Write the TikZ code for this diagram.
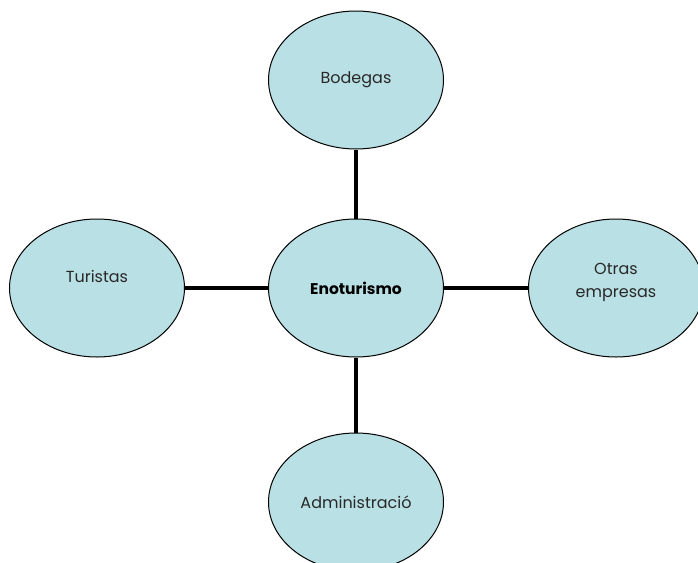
\documentclass[tikz,border=0pt]{standalone}
\usepackage{fontspec}
\setmainfont{Poppins}
\usepackage{xcolor}
\usetikzlibrary{shapes.geometric, positioning}

\definecolor{celeste}{RGB}{185,224,228}
\definecolor{tinta}{RGB}{40,40,40}

\begin{document}
\begin{tikzpicture}[x=1pt, y=-1pt,
    burbuja/.style={ellipse, draw=black, line width=1pt, fill=celeste,
        minimum width=175pt, minimum height=138pt, inner sep=0pt, align=center,
        text=tinta, font=\fontsize{16}{23}\selectfont},
    enlace/.style={line width=4.5pt, black}]
    \useasboundingbox (0,0) rectangle (698,562);

    % Nodo central
    \node[burbuja, text=black, font=\fontsize{15.5}{23}\selectfont\bfseries] (eno) at (356,288) {Enoturismo};

    % Nodos alrededor
    \node[burbuja] (bodegas) at (356,80) {Bodegas};
    \node[burbuja] (turistas) at (97,288) {Turistas\\[0pt]};
    \node[burbuja] (otras) at (616,288) {Otras\\empresas\\[-8pt]};
    \node[burbuja] (admin) at (356,502) {Administració};

    % Enlaces gruesos
    \draw[enlace] (eno) -- (bodegas);
    \draw[enlace] (eno) -- (turistas);
    \draw[enlace] (eno) -- (otras);
    \draw[enlace] (eno) -- (admin);
\end{tikzpicture}
\end{document}
